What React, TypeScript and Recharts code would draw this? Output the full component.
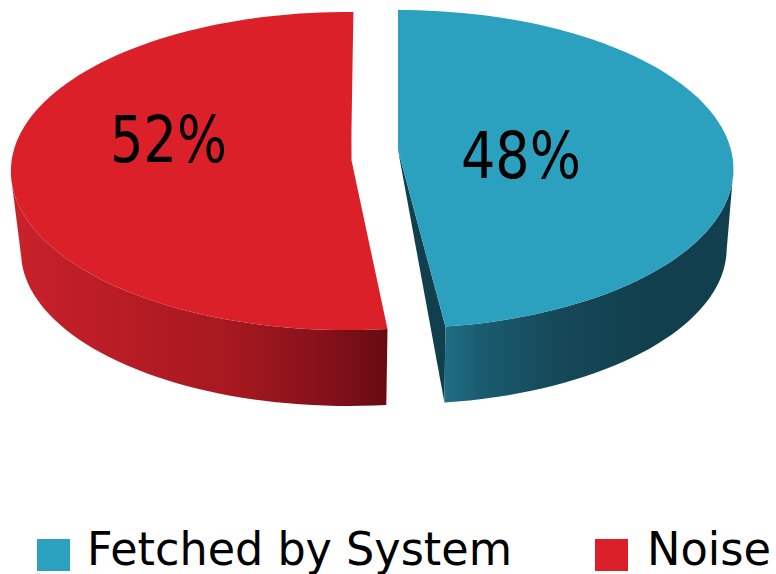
import { PieChart, Pie, Legend } from "recharts";

const categories = ["Fetched by System", "Noise"];
const shares = [48, 52];
const topColors = ["#2ca1bf", "#db2029"];

const chartData = categories.map((name, i) => ({ name, value: shares[i], fill: topColors[i] }));

const FONT = "'DejaVu Sans', sans-serif";

// each exploded slice has its own projection onto the tilted plane
const sliceViews = [
  {
    apexX: 398, apexY: 150, centerX: 398, centerY: 150, rx: 333, ry: 156.8, persp: 0.12,
    tilt: 0, shrink: 0.98, drop: 79.5,
    wallStops: [["0%", "#1f6f86"], ["12%", "#1a5c70"], ["40%", "#154858"], ["70%", "#123f4d"], ["100%", "#123f4d"]],
    labelX: 461, labelY: 178, labelLen: 120,
  },
  {
    apexX: 351, apexY: 158, centerX: 348, centerY: 158, rx: 336, ry: 158, persp: 0.082,
    tilt: 1, shrink: 0.97, drop: 81,
    wallStops: [["0%", "#c9222b"], ["30%", "#b81c25"], ["60%", "#a5181f"], ["85%", "#82101a"], ["100%", "#680b11"]],
    labelX: 110, labelY: 162, labelLen: 117,
  },
];

const legendSpots = [
  { boxX: 37, textX: 87, textLen: 425 },
  { boxX: 595, textX: 647, textLen: 124 },
];

type Pt = [number, number];

const toPath = (pts: Pt[]) =>
  "M" + pts.map(([x, y]) => `${x.toFixed(1)},${y.toFixed(1)}`).join("L") + "Z";

function Slice3D(props: any) {
  const { startAngle, endAngle, index, fill } = props;
  const view = sliceViews[index];

  // library angle -> point on the top face
  const project = (deg: number): Pt => {
    const rad = ((deg - view.tilt) * Math.PI) / 180;
    const u = Math.cos(rad);
    const v = -Math.sin(rad);
    const w = 1 - view.persp * v;
    return [view.centerX + (view.rx * u) / w, view.centerY + (view.ry * v) / w];
  };
  const lower = ([x, y]: Pt): Pt => [
    view.centerX + (x - view.centerX) * view.shrink,
    view.centerY + (y - view.centerY) * view.shrink + view.drop,
  ];

  const arc: Pt[] = [];
  const steps = Math.ceil(Math.abs(endAngle - startAngle) / 2);
  for (let i = 0; i <= steps; i++) {
    arc.push(project(startAngle + ((endAngle - startAngle) * i) / steps));
  }

  const apex: Pt = [view.apexX, view.apexY];
  // only the part of the rim in front of the tangent points shows a wall
  const front = arc.filter((p) => p[1] >= view.centerY + view.ry * view.persp);
  const wall = [...front, ...[...front].reverse().map(lower)];
  const gradId = `wall-${index}`;

  const first = arc[0];
  const last = arc[arc.length - 1];
  const along = (p: Pt, t: number): Pt => [p[0] + (apex[0] - p[0]) * t, p[1] + (apex[1] - p[1]) * t];

  return (
    <g>
      <defs>
        <linearGradient id={gradId} x1={index === 0 ? 0 : 0} x2="1" y1="0" y2="0">
          {view.wallStops.map(([offset, color]) => (
            <stop key={offset} offset={offset} stopColor={color} />
          ))}
        </linearGradient>
      </defs>
      {index === 0 && <path d={toPath([apex, last, lower(last)])} fill="#123f4d" />}
      <path d={toPath(wall)} fill={`url(#${gradId})`} />
      <path d={toPath([apex, ...arc])} fill={fill} />
      {index === 1 && (
        <path
          d={toPath([along(last, 0.25), along(last, 0.78), along(first, 0.985), apex])}
          fill="#bb1c26"
        />
      )}
    </g>
  );
}

function SliceLabel(props: any) {
  const view = sliceViews[props.index];
  return (
    <text
      x={view.labelX}
      y={view.labelY}
      fontFamily={FONT}
      fontSize={64}
      fill="#000"
      textLength={view.labelLen}
      lengthAdjust="spacingAndGlyphs"
    >
      {`${props.value}%`}
    </text>
  );
}

function LegendRow({ payload }: any) {
  return (
    <svg width={776} height={60} style={{ display: "block" }}>
      {(payload ?? []).map((entry: any, i: number) => (
        <g key={entry.value}>
          <rect x={legendSpots[i].boxX} y={25} width={33} height={32} fill={entry.color} />
          <text
            x={legendSpots[i].textX}
            y={51}
            fontFamily={FONT}
            fontSize={47}
            fill="#000"
            textLength={legendSpots[i].textLen}
            lengthAdjust="spacingAndGlyphs"
          >
            {entry.value}
          </text>
        </g>
      ))}
    </svg>
  );
}

export default function App() {
  return (
    <div style={{ position: "absolute", left: 0, top: 0, width: 776, height: 574, background: "#fff" }}>
      <PieChart width={776} height={574} margin={{ top: 0, right: 0, bottom: 0, left: 0 }}>
        <Pie
          data={chartData}
          dataKey="value"
          nameKey="name"
          cx={375}
          cy={155}
          outerRadius={140}
          startAngle={90}
          endAngle={-270}
          stroke="none"
          shape={Slice3D}
          label={SliceLabel}
          labelLine={false}
          isAnimationActive={false}
        />
        <Legend
          content={<LegendRow />}
          wrapperStyle={{ position: "absolute", left: 0, top: 514, width: 776, height: 60 }}
        />
      </PieChart>
    </div>
  );
}
